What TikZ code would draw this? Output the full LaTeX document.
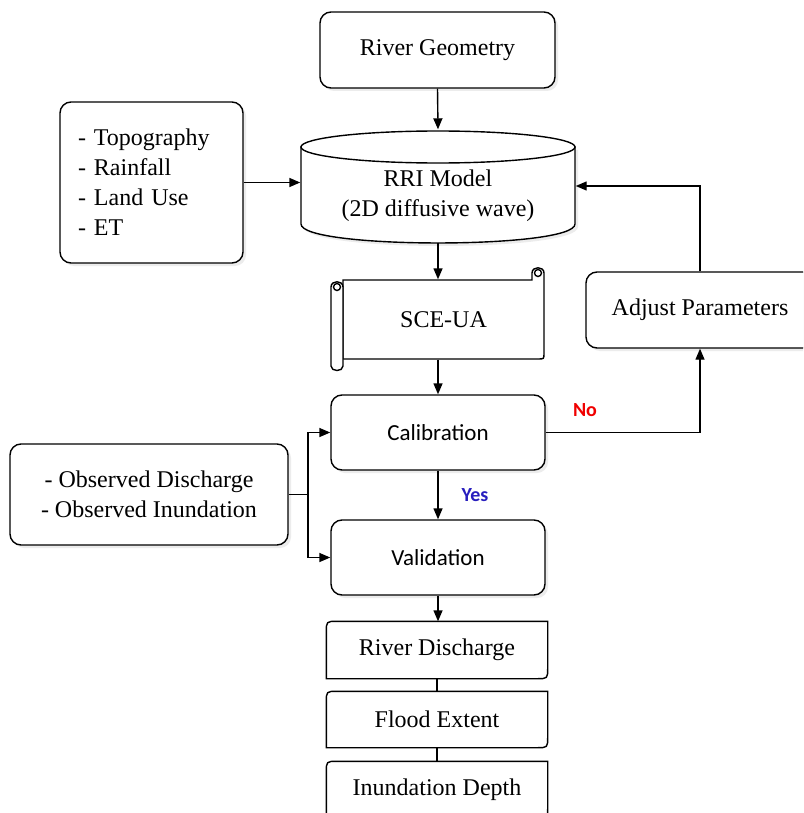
\documentclass[tikz,border=0pt]{standalone}
\usepackage{fontspec}
\newfontfamily\tnrfont{Liberation Serif}[Ligatures=TeX]
\newfontfamily\carl{Carlito}
\usetikzlibrary{arrows.meta,calc,shadows}
\definecolor{yesblue}{RGB}{40,30,190}
\definecolor{nored}{RGB}{240,0,0}
\newcommand\mysnip[1]{\draw ($(#1.north west)+(11,0)$) -- (#1.north east) -- ($(#1.south east)+(0,-11)$) .. controls (#1.south east) .. ($(#1.south east)+(-11,0)$) -- (#1.south west) -- ($(#1.north west)+(0,11)$) .. controls (#1.north west) .. cycle;}
\begin{document}
\begin{tikzpicture}[x=1pt,y=-1pt,line width=1.4pt,
  tnr/.style={font=\tnrfont\fontsize{24}{30}\selectfont},
  sans/.style={font=\carl\fontsize{23}{28}\selectfont},
  box/.style={draw, rounded corners=11pt, fill=white, inner sep=0pt, align=center,
    drop shadow={opacity=0.15,shadow xshift=3pt,shadow yshift=-3pt}},
  plain/.style={inner sep=0pt, align=center},
  arr/.style={-{Triangle[length=11pt,width=9pt]}},
  lab/.style={font=\carl\bfseries\fontsize{20}{22}\selectfont}
]
\clip (0,0) rectangle (803,813);
\fill[white] (0,0) rectangle (803,813);

% River Geometry
\node[box, tnr, minimum width=235, minimum height=76] (rg) at (437.5,50) {River Geometry};

% Inputs
\node[box, tnr, minimum height=161, text width=147, inner xsep=18, align=left] (topo) at (151.5,182.5)
  {- Topography\\- Rainfall\\- Land Use\\- ET};

% Cylinder (RRI Model)
\fill[gray, opacity=0.15] (304,150) -- (304,227) .. controls (304,252.3) and (578,252.3) .. (578,227) -- (578,150) -- cycle;
\draw[fill=white] (301,147) -- (301,224) .. controls (301,249.3) and (575,249.3) .. (575,224) -- (575,147) -- cycle;
\draw[fill=white] (438,147) ellipse [x radius=137, y radius=16];
\node[plain, minimum width=274, minimum height=112] (rri) at (438,186) {};
\node[plain, tnr] (rritext) at (438,196) {RRI Model\\(2D diffusive wave)};

% SCE-UA scroll
\draw[fill=white] (343,359) -- (343,280) -- (532,280) -- (532,273) .. controls (532,266) and (544,266) .. (544,273) -- (544,353) .. controls (544,359) .. (538,359) -- cycle;
\draw (538,273) circle (3.5);
\draw[fill=white] (331,287) .. controls (331,280) and (343,280) .. (343,287) -- (343,366) .. controls (343,372) and (331,372) .. (331,366) -- cycle;
\draw (337,287) circle (3.5);
\node[plain, tnr, minimum width=201, minimum height=79] (sce) at (443.5,319.5) {SCE-UA};

% Adjust Parameters
\node[box, tnr, minimum width=228, minimum height=76] (adj) at (700,310) {Adjust Parameters};

% Calibration / Validation
\node[box, sans, minimum width=214, minimum height=75] (cal) at (438,432.5) {Calibration};
\node[box, sans, minimum width=214, minimum height=75] (val) at (438,557.5) {Validation};

% Observed
\node[box, tnr, minimum width=278, minimum height=101] (obs) at (149,494.5) {- Observed Discharge\\- Observed Inundation};

% Outputs
\node[plain, tnr, minimum width=220, minimum height=56] (rd) at (437,650) {River Discharge};
\node[plain, tnr, minimum width=220, minimum height=55] (fe) at (437,719.5) {Flood Extent};
\node[plain, tnr, minimum width=220, minimum height=56] (id) at (437,790) {Inundation Depth};
\mysnip{rd}
\mysnip{fe}
\mysnip{id}

% Labels
\node[lab, text=nored] (no) at (585,410) {No};
\node[lab, text=yesblue] (yes) at (475,495) {Yes};

% Connectors
\draw[arr] (rg.south) -- (rri.north);
\draw[arr] (topo.east) -- (topo.east -| rri.west);
\draw[arr] (adj.north) |- (rri.east);
\draw[arr] (rri.south) -- (rri.south |- sce.north);
\draw[arr] (rri.south |- sce.south) -- (cal.north);
\draw[arr] (cal.east) -| (adj.south);
\draw[arr] (cal.south) -- (val.north);
\coordinate (split) at (308,494.5);
\draw (obs.east) -- (split);
\draw[arr] (split) |- (cal.west);
\draw[arr] (split) |- (val.west);
\draw[arr] (val.south) -- (val.south |- rd.north);
\draw (rd.south) -- (fe.north);
\draw (fe.south) -- (id.north);
\end{tikzpicture}
\end{document}
